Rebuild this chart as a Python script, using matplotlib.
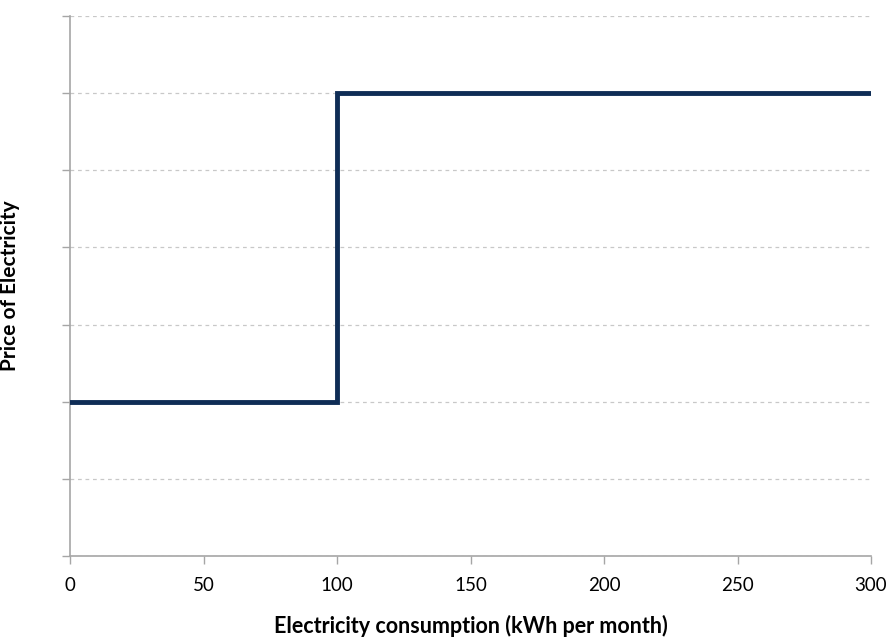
import matplotlib
matplotlib.use("Agg")
import matplotlib.pyplot as plt

consumption = [0, 100, 300]
price = [2, 6, 6]
x_ticks = [0, 50, 100, 150, 200, 250, 300]
y_grid = [0, 1, 2, 3, 4, 5, 6, 7]

plt.rcParams['font.family'] = ['Lato', 'DejaVu Sans']

fig = plt.figure(figsize=(8.91, 6.37), dpi=100)
ax = fig.add_axes([70/891, 1-556/637, 801/891, 540/637])

ax.step(consumption, price, where='post', color='#0f2d56', lw=3.5,
        solid_joinstyle='miter', zorder=3)

ax.set_xlim(0, 300)
ax.set_ylim(0, 7)
ax.set_xticks(x_ticks)
ax.set_xticklabels([str(v) for v in x_ticks], fontsize=13.5)
ax.set_yticks(y_grid)
ax.set_yticklabels([])
ax.yaxis.grid(True, color='#c8c8c8', linestyle=(0, (3, 3)), lw=0.9)
ax.tick_params(axis='both', direction='out', length=6, color='#a6a6a6', width=1)
ax.tick_params(axis='x', pad=9)
for s in ['top', 'right']:
    ax.spines[s].set_visible(False)
for s in ['left', 'bottom']:
    ax.spines[s].set_color('#a6a6a6')
    ax.spines[s].set_linewidth(1.2)

ax.set_ylabel('Price of Electricity', fontsize=15, fontweight='bold')
ax.yaxis.set_label_coords(-50/801, 0.5)
ax.set_xlabel('Electricity consumption (kWh per month)', fontsize=15.5,
              fontweight='bold')
ax.xaxis.set_label_coords(0.5, -59/540)

fig.savefig('out.png', dpi=100)
